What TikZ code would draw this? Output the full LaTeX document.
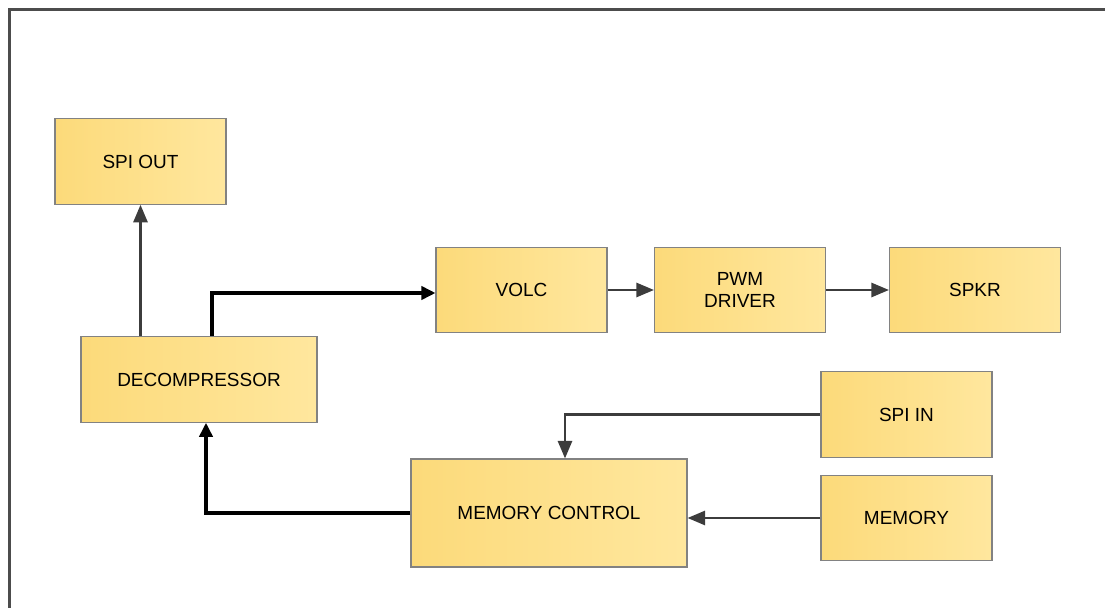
\documentclass[tikz,border=0pt]{standalone}
\usepackage{fontspec}
\setmainfont{Liberation Sans}
\usetikzlibrary{arrows.meta}
\definecolor{boxlo}{RGB}{252,218,122}
\definecolor{boxhi}{RGB}{255,231,158}
\definecolor{boxedge}{RGB}{130,130,130}
\definecolor{wiregray}{RGB}{60,60,60}
\begin{document}
\begin{tikzpicture}[
        block/.style={draw=boxedge, line width=0.6pt, left color=boxlo, right color=boxhi,
            minimum width=3.42cm, minimum height=1.71cm, align=center,
            font=\fontsize{10.8}{12.5}\selectfont},
        wire/.style={draw=wiregray, line width=1.5pt, -{Triangle[length=10pt,width=8pt]}},
        busline/.style={draw=black, line width=1.9pt, -{Triangle[length=8pt,width=7.5pt]}},
        ]
    \useasboundingbox (0,0) rectangle (22.1,-12.16);
    \draw[gray!60!black, line width=1.2pt] (0.19,-12.2) -- (0.19,-0.19) -- (22.2,-0.19);
    \node (spiout) [block] at (2.81,-3.23) {SPI OUT};
    \node (decomp) [block, minimum width=4.72cm] at (3.98,-7.59) {DECOMPRESSOR};
    \node (volc) [block] at (10.43,-5.80) {VOLC};
    \node (pwm) [block] at (14.80,-5.80) {PWM\\DRIVER};
    \node (spkr) [block] at (19.50,-5.80) {SPKR};
    \node (spiin) [block] at (18.13,-8.29) {SPI IN};
    \node (memctl) [block, minimum width=5.52cm, minimum height=2.16cm] at (10.98,-10.26) {MEMORY CONTROL};
    \node (memory) [block] at (18.13,-10.36) {MEMORY};
    \draw[wire] (decomp.north -| spiout.south) -- (spiout.south);
    \draw[busline] ([xshift=0.26cm]decomp.north) |- ([yshift=-0.06cm]volc.west);
    \draw[wire] (volc) -- (pwm);
    \draw[wire] (pwm) -- (spkr);
    \draw[wire] (spiin.west) -| ([xshift=0.32cm]memctl.north);
    \draw[wire] (memory.west) -- (memory.west -| memctl.east);
    \draw[busline] (memctl.west) -| ([xshift=0.14cm]decomp.south);
\end{tikzpicture}
\end{document}
